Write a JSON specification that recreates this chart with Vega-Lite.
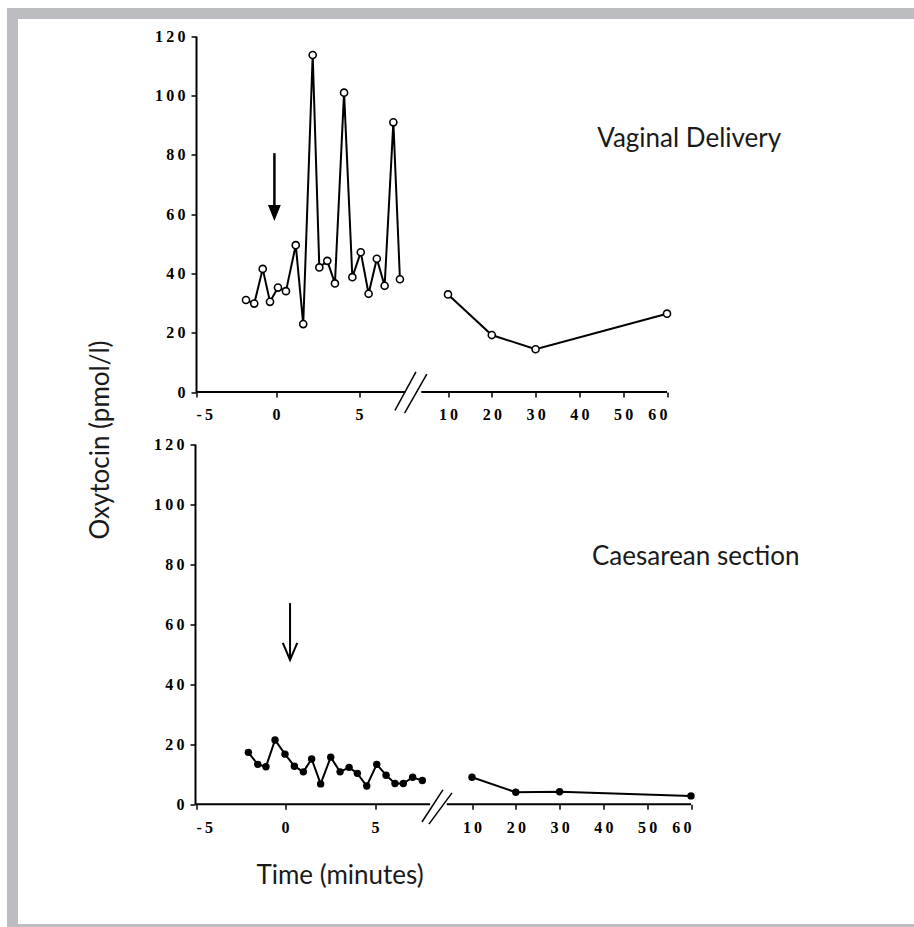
{
  "$schema": "https://vega.github.io/schema/vega-lite/v6.json",
  "width": 911.5,
  "height": 916,
  "autosize": {"type": "none"},
  "padding": {"left": 12.5, "top": 13.5, "right": -10, "bottom": -2.5},
  "background": "white",
  "config": {
    "view": {"stroke": "#bcbdc1", "strokeWidth": 11, "fill": "white"},
    "axis": {
      "grid": false,
      "domainColor": "black",
      "domainWidth": 2,
      "tickColor": "black",
      "tickWidth": 1.5,
      "tickSize": 5,
      "labelFont": "Liberation Serif",
      "labelFontWeight": "bold",
      "labelFontSize": 16,
      "labelColor": "black",
      "labelOverlap": false,
      "labelExpr": "join(split(toString(datum.value), ''), '\u2009')",
      "titleFont": "Lato",
      "titleFontWeight": "normal",
      "titleFontSize": 26,
      "titleColor": "#1a1a1a"
    },
    "text": {"font": "Lato", "fontSize": 26, "color": "#1a1a1a"}
  },
  "datasets": {
    "vaginal": [
      {"seg": "a", "time": -1.875, "oxytocin": 31.0},
      {"seg": "a", "time": -1.36, "oxytocin": 29.8},
      {"seg": "a", "time": -0.83, "oxytocin": 41.5},
      {"seg": "a", "time": -0.375, "oxytocin": 30.4},
      {"seg": "a", "time": 0.12, "oxytocin": 35.2},
      {"seg": "a", "time": 0.6, "oxytocin": 34.0},
      {"seg": "a", "time": 1.19, "oxytocin": 49.5},
      {"seg": "a", "time": 1.64, "oxytocin": 22.9},
      {"seg": "a", "time": 2.21, "oxytocin": 113.6},
      {"seg": "a", "time": 2.61, "oxytocin": 42.0},
      {"seg": "a", "time": 3.09, "oxytocin": 44.2},
      {"seg": "a", "time": 3.55, "oxytocin": 36.6},
      {"seg": "a", "time": 4.1, "oxytocin": 100.9},
      {"seg": "a", "time": 4.6, "oxytocin": 38.7},
      {"seg": "a", "time": 5.1, "oxytocin": 47.1},
      {"seg": "a", "time": 5.54, "oxytocin": 33.1},
      {"seg": "a", "time": 6.0, "oxytocin": 44.9},
      {"seg": "a", "time": 6.44, "oxytocin": 35.8},
      {"seg": "a", "time": 6.93, "oxytocin": 90.9},
      {"seg": "a", "time": 7.3, "oxytocin": 38.0},
      {"seg": "b", "time": 10, "oxytocin": 32.9},
      {"seg": "b", "time": 20, "oxytocin": 19.2},
      {"seg": "b", "time": 30, "oxytocin": 14.4},
      {"seg": "b", "time": 60, "oxytocin": 26.4}
    ],
    "caesarean": [
      {"seg": "a", "time": -2.06, "oxytocin": 17.3},
      {"seg": "a", "time": -1.53, "oxytocin": 13.3},
      {"seg": "a", "time": -1.07, "oxytocin": 12.5},
      {"seg": "a", "time": -0.56, "oxytocin": 21.4},
      {"seg": "a", "time": 0.0, "oxytocin": 16.7},
      {"seg": "a", "time": 0.52, "oxytocin": 12.7},
      {"seg": "a", "time": 1.02, "oxytocin": 10.8},
      {"seg": "a", "time": 1.48, "oxytocin": 15.1},
      {"seg": "a", "time": 1.98, "oxytocin": 6.8},
      {"seg": "a", "time": 2.54, "oxytocin": 15.7},
      {"seg": "a", "time": 3.06, "oxytocin": 10.8},
      {"seg": "a", "time": 3.56, "oxytocin": 12.3},
      {"seg": "a", "time": 4.02, "oxytocin": 10.3},
      {"seg": "a", "time": 4.54, "oxytocin": 6.1},
      {"seg": "a", "time": 5.09, "oxytocin": 13.3},
      {"seg": "a", "time": 5.57, "oxytocin": 9.7},
      {"seg": "a", "time": 6.03, "oxytocin": 6.9},
      {"seg": "a", "time": 6.46, "oxytocin": 6.9},
      {"seg": "a", "time": 6.94, "oxytocin": 9.0},
      {"seg": "a", "time": 7.44, "oxytocin": 7.9},
      {"seg": "b", "time": 10, "oxytocin": 9.0},
      {"seg": "b", "time": 20, "oxytocin": 4.0},
      {"seg": "b", "time": 30, "oxytocin": 4.2},
      {"seg": "b", "time": 60, "oxytocin": 2.8}
    ],
    "notes": [
      {"panel": "top", "kind": "axisline", "time": -5, "time2": 7.6, "oxytocin": 0, "oxytocin2": 0},
      {"panel": "top", "kind": "axisline", "time": 8.5, "time2": 60, "oxytocin": 0, "oxytocin2": 0},
      {"panel": "top", "kind": "break", "time": 7.02, "time2": 8.2, "oxytocin": -6.2, "oxytocin2": 6.8},
      {"panel": "top", "kind": "break", "time": 7.56, "time2": 8.81, "oxytocin": -7.1, "oxytocin2": 6.0},
      {"panel": "top", "kind": "shaft", "time": -0.1, "time2": -0.1, "oxytocin": 80.5, "oxytocin2": 61},
      {"panel": "top", "kind": "head", "time": -0.1, "oxytocin": 60.3},
      {"panel": "top", "kind": "label", "time": 65.07, "oxytocin": 85.3, "text": "Vaginal Delivery"},
      {"panel": "bottom", "kind": "axisline", "time": -5, "time2": 7.84, "oxytocin": 0, "oxytocin2": 0},
      {"panel": "bottom", "kind": "axisline", "time": 8.7, "time2": 60, "oxytocin": 0, "oxytocin2": 0},
      {"panel": "bottom", "kind": "break", "time": 7.42, "time2": 8.5, "oxytocin": -5.9, "oxytocin2": 4.8},
      {"panel": "bottom", "kind": "break", "time": 7.78, "time2": 8.97, "oxytocin": -6.6, "oxytocin2": 3.8},
      {"panel": "bottom", "kind": "shaft", "time": 0.28, "time2": 0.28, "oxytocin": 67, "oxytocin2": 48.5},
      {"panel": "bottom", "kind": "head", "time": 0.28, "oxytocin": 50.9},
      {"panel": "bottom", "kind": "label", "time": 61.1, "oxytocin": 82.4, "text": "Caesarean section"}
    ]
  },
  "layer": [
    {
      "encoding": {
        "x": {
          "field": "time", "type": "quantitative",
          "scale": {"domain": [-5, 0, 5, 10, 60], "range": [183.5, 263.5, 346.5, 435.5, 654.5], "nice": false, "zero": false},
          "axis": {"orient": "bottom", "offset": -537.5, "values": [-5, 0, 5, 10, 20, 30, 40, 50, 60], "domain": false, "labelPadding": 9, "title": null}
        },
        "y": {
          "field": "oxytocin", "type": "quantitative",
          "scale": {"domain": [0, 120], "range": [378.5, 22.5], "nice": false, "zero": false},
          "axis": {"orient": "left", "offset": -183.5, "values": [0, 20, 40, 60, 80, 100, 120], "labelPadding": 6, "title": "Oxytocin (pmol/l)", "titleX": -95.5, "titleY": 426, "titleAngle": -90, "titleBaseline": "middle", "titleAlign": "center"}
        }
      },
      "layer": [
        {
          "data": {"name": "notes"},
          "transform": [{"filter": "datum.panel === 'top' && datum.kind === 'axisline'"}],
          "mark": {"type": "rule", "color": "black", "strokeWidth": 2},
          "encoding": {"x2": {"field": "time2"}, "y2": {"field": "oxytocin2"}}
        },
        {
          "data": {"name": "notes"},
          "transform": [{"filter": "datum.panel === 'top' && datum.kind === 'break'"}],
          "mark": {"type": "rule", "color": "black", "strokeWidth": 1.5},
          "encoding": {"x2": {"field": "time2"}, "y2": {"field": "oxytocin2"}}
        },
        {
          "data": {"name": "notes"},
          "transform": [{"filter": "datum.panel === 'top' && datum.kind === 'shaft'"}],
          "mark": {"type": "rule", "color": "black", "strokeWidth": 2.5},
          "encoding": {"x2": {"field": "time2"}, "y2": {"field": "oxytocin2"}}
        },
        {
          "data": {"name": "notes"},
          "transform": [{"filter": "datum.panel === 'top' && datum.kind === 'head'"}],
          "mark": {"type": "point", "shape": "M-0.8,-1L0.8,-1L0,1Z", "size": 256, "filled": true, "color": "black", "opacity": 1}
        },
        {
          "data": {"name": "vaginal"},
          "mark": {"type": "line", "color": "black", "strokeWidth": 2},
          "encoding": {"detail": {"field": "seg"}}
        },
        {
          "data": {"name": "vaginal"},
          "mark": {"type": "point", "shape": "circle", "size": 50, "fill": "white", "stroke": "black", "strokeWidth": 1.6, "filled": false, "opacity": 1, "fillOpacity": 1}
        },
        {
          "data": {"name": "notes"},
          "transform": [{"filter": "datum.panel === 'top' && datum.kind === 'label'"}],
          "mark": {"type": "text", "align": "center", "baseline": "middle"},
          "encoding": {"text": {"field": "text"}}
        }
      ]
    },
    {
      "encoding": {
        "x": {
          "field": "time", "type": "quantitative",
          "scale": {"domain": [-5, 0, 5, 10, 60], "range": [183.5, 272.5, 362.5, 459.5, 678.5], "nice": false, "zero": false},
          "axis": {"orient": "bottom", "offset": -125.2, "values": [-5, 0, 5, 10, 20, 30, 40, 50, 60], "domain": false, "labelPadding": 10, "title": "Time (minutes)", "titleX": 327, "titleY": 71, "titleBaseline": "middle", "titleAlign": "center"}
        },
        "y": {
          "field": "oxytocin", "type": "quantitative",
          "scale": {"domain": [0, 120], "range": [790.8, 430.5], "nice": false, "zero": false},
          "axis": {"orient": "left", "offset": -182.5, "values": [0, 20, 40, 60, 80, 100, 120], "labelPadding": 6, "title": null}
        }
      },
      "layer": [
        {
          "data": {"name": "notes"},
          "transform": [{"filter": "datum.panel === 'bottom' && datum.kind === 'axisline'"}],
          "mark": {"type": "rule", "color": "black", "strokeWidth": 2},
          "encoding": {"x2": {"field": "time2"}, "y2": {"field": "oxytocin2"}}
        },
        {
          "data": {"name": "notes"},
          "transform": [{"filter": "datum.panel === 'bottom' && datum.kind === 'break'"}],
          "mark": {"type": "rule", "color": "black", "strokeWidth": 1.5},
          "encoding": {"x2": {"field": "time2"}, "y2": {"field": "oxytocin2"}}
        },
        {
          "data": {"name": "notes"},
          "transform": [{"filter": "datum.panel === 'bottom' && datum.kind === 'shaft'"}],
          "mark": {"type": "rule", "color": "black", "strokeWidth": 2},
          "encoding": {"x2": {"field": "time2"}, "y2": {"field": "oxytocin2"}}
        },
        {
          "data": {"name": "notes"},
          "transform": [{"filter": "datum.panel === 'bottom' && datum.kind === 'head'"}],
          "mark": {"type": "point", "shape": "M-0.85,-1L0,1L0.85,-1", "size": 289, "filled": false, "fill": null, "stroke": "black", "strokeWidth": 2, "opacity": 1}
        },
        {
          "data": {"name": "caesarean"},
          "mark": {"type": "line", "color": "black", "strokeWidth": 2},
          "encoding": {"detail": {"field": "seg"}}
        },
        {
          "data": {"name": "caesarean"},
          "mark": {"type": "point", "shape": "circle", "size": 55, "filled": true, "color": "black", "opacity": 1}
        },
        {
          "data": {"name": "notes"},
          "transform": [{"filter": "datum.panel === 'bottom' && datum.kind === 'label'"}],
          "mark": {"type": "text", "align": "center", "baseline": "middle"},
          "encoding": {"text": {"field": "text"}}
        }
      ]
    }
  ],
  "resolve": {"scale": {"x": "independent", "y": "independent"}, "axis": {"x": "independent", "y": "independent"}}
}
